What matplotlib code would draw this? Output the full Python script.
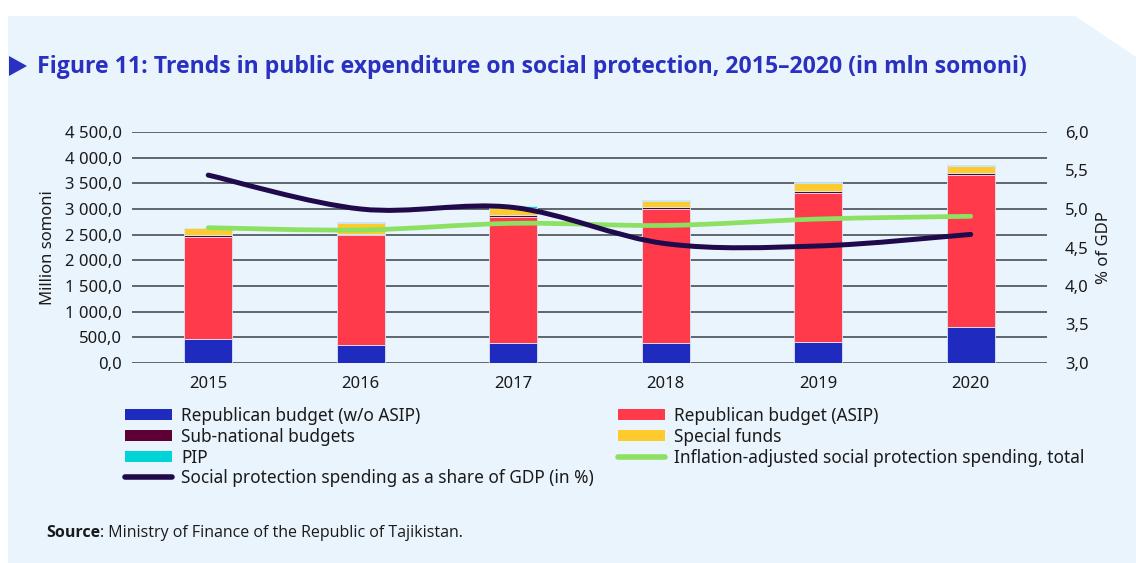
import matplotlib
matplotlib.use("Agg")
import matplotlib.pyplot as plt
from matplotlib.patches import Polygon, PathPatch, Patch
from matplotlib.lines import Line2D
from matplotlib.path import Path
from matplotlib.ticker import FuncFormatter, FixedLocator
import numpy as np

plt.rcParams['font.family'] = ['Noto Sans', 'DejaVu Sans']

years = ['2015', '2016', '2017', '2018', '2019', '2020']
rep_wo_asip = [470, 350, 380, 385, 415, 705]
rep_asip = [1990, 2140, 2470, 2615, 2890, 2960]
sub_national = [30, 20, 30, 30, 50, 40]
special_funds = [140, 210, 130, 120, 145, 135]
pip = [5, 25, 45, 20, 25, 20]
inflation_adjusted = [2636, 2591, 2721, 2680, 2805, 2858]
share_gdp = [5.44, 5.00, 5.02, 4.55, 4.52, 4.67]

c_blue = '#1F2BBE'
c_red = '#FF3B4B'
c_maroon = '#5C0035'
c_yellow = '#FFCA2C'
c_cyan = '#00D4D6'
c_green = '#8CE062'
c_dark = '#200A4C'
c_title = '#2A30C0'
c_panel = '#EAF4FD'
c_text = '#1A1A1A'

W, H = 1136, 563
fig = plt.figure(figsize=(W / 100, H / 100), dpi=100, facecolor='white')

def fx(x):
    return x / W

def fy(y):
    return 1 - y / H

panel = Polygon([(fx(8), fy(16)), (fx(1075), fy(16)), (fx(1136), fy(57)),
                 (fx(1136), fy(563)), (fx(8), fy(563))],
                closed=True, transform=fig.transFigure, facecolor=c_panel,
                edgecolor='none', zorder=-10)
fig.patches.append(panel)

left, right = 132, 1047
top, bottom = 132, 363
ax = fig.add_axes([fx(left), fy(bottom), (right - left) / W, (bottom - top) / H])
ax.set_facecolor('none')
for s in ax.spines.values():
    s.set_visible(False)

x = np.arange(len(years))
bw = 0.315
edge = dict(edgecolor='#DCE6F8', linewidth=0.6)
b0 = np.zeros(len(years))
series = [(rep_wo_asip, c_blue), (rep_asip, c_red), (sub_national, c_maroon),
          (special_funds, c_yellow), (pip, c_cyan)]
for vals, col in series:
    ax.bar(x, vals, bw, bottom=b0, color=col, zorder=3, **edge)
    b0 = b0 + np.array(vals)

ax.set_xlim(-0.5, 5.5)
ax.set_ylim(0, 4500)
yt = np.arange(0, 4501, 500)
ax.yaxis.set_major_locator(FixedLocator(yt))
def fmt_left(v, pos):
    s = f"{v:,.1f}".replace(',', ' ').replace('.', ',')
    return s
ax.yaxis.set_major_formatter(FuncFormatter(fmt_left))
ax.set_xticks(x)
ax.set_xticklabels(years)
ax.tick_params(axis='both', length=0, labelsize=12, colors=c_text)
ax.tick_params(axis='y', pad=7)
ax.tick_params(axis='x', pad=9)
for t in yt:
    ax.axhline(t, color='#5F666E', lw=1.4, zorder=1)

ax.set_ylabel('Million somoni', fontsize=12, color=c_text, labelpad=7)

ax2 = ax.twinx()
ax2.set_facecolor('none')
for s in ax2.spines.values():
    s.set_visible(False)
ax2.set_ylim(3.0, 6.0)
ax2.set_yticks(np.arange(3.0, 6.01, 0.5))
ax2.yaxis.set_major_formatter(FuncFormatter(lambda v, p: f"{v:.1f}".replace('.', ',')))
ax2.tick_params(axis='y', length=0, labelsize=12, colors=c_text, pad=13)
ax2.set_ylabel('% of GDP', fontsize=12, color=c_text, labelpad=5)

def smooth_path(xs, ys):
    xs = list(map(float, xs)); ys = list(map(float, ys))
    P = list(zip(xs, ys))
    n = len(P)
    verts = [P[0]]
    codes = [Path.MOVETO]
    for i in range(n - 1):
        p0 = P[i - 1] if i > 0 else P[i]
        p1 = P[i]
        p2 = P[i + 1]
        p3 = P[i + 2] if i + 2 < n else P[i + 1]
        c1 = (p1[0] + (p2[0] - p0[0]) / 6, p1[1] + (p2[1] - p0[1]) / 6)
        c2 = (p2[0] - (p3[0] - p1[0]) / 6, p2[1] - (p3[1] - p1[1]) / 6)
        verts += [c1, c2, p2]
        codes += [Path.CURVE4] * 3
    return Path(verts, codes)

g = PathPatch(smooth_path(x, inflation_adjusted), facecolor='none', edgecolor=c_green,
              lw=3.4, capstyle='round', joinstyle='round', zorder=5, transform=ax.transData)
ax.add_patch(g)
d = PathPatch(smooth_path(x, share_gdp), facecolor='none', edgecolor=c_dark,
              lw=3.6, capstyle='round', joinstyle='round', zorder=6, transform=ax2.transData)
ax2.add_patch(d)

# Title
tri = Polygon([(fx(9), fy(56)), (fx(27), fy(66)), (fx(9), fy(76))], closed=True,
              transform=fig.transFigure, facecolor=c_title, edgecolor='none')
fig.patches.append(tri)
fig.text(fx(37), fy(67), 'Figure 11: Trends in public expenditure on social protection, 2015\u20132020 (in mln somoni)',
         fontsize=16.6, fontweight='bold', color=c_title, va='center', ha='left',
         family=['Open Sans', 'DejaVu Sans'])

# Legends
col1_h = [Patch(facecolor=c_blue), Patch(facecolor=c_maroon), Patch(facecolor=c_cyan),
          Line2D([], [], color=c_dark, lw=4, solid_capstyle='round')]
col1_l = ['Republican budget (w/o ASIP)', 'Sub-national budgets', 'PIP',
          'Social protection spending as a share of GDP (in %)']
col2_h = [Patch(facecolor=c_red), Patch(facecolor=c_yellow),
          Line2D([], [], color=c_green, lw=4, solid_capstyle='round')]
col2_l = ['Republican budget (ASIP)', 'Special funds',
          'Inflation-adjusted social protection spending, total']
leg_kw = dict(frameon=False, fontsize=12.4, handlelength=2.75, handleheight=0.6,
              handletextpad=0.5, labelspacing=0.16, borderpad=0, borderaxespad=0,
              loc='upper left')
l1 = fig.legend(col1_h, col1_l, bbox_to_anchor=(fx(125), fy(407)), **leg_kw)
l2 = fig.legend(col2_h, col2_l, bbox_to_anchor=(fx(618), fy(407)), **leg_kw)
for l in (l1, l2):
    for t in l.get_texts():
        t.set_color(c_text)

# Source
t1 = fig.text(fx(46), fy(533), 'Source', fontsize=11.5, fontweight='bold', color=c_text,
              va='center', ha='left', family=['Open Sans', 'DejaVu Sans'])
fig.add_artist(matplotlib.text.Annotation(
    ': Ministry of Finance of the Republic of Tajikistan.', xy=(1, 0), xycoords=t1,
    va='bottom', ha='left', fontsize=11.5, color=c_text,
    family=['Open Sans', 'DejaVu Sans'], annotation_clip=False))

fig.savefig('out.png', dpi=100, facecolor='white')
